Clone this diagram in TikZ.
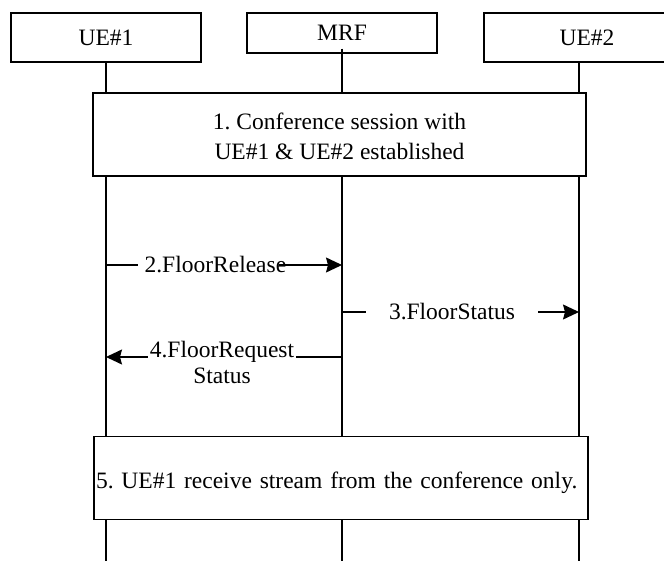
\documentclass[tikz,border=0pt]{standalone}
\usepackage{fontspec}
\setmainfont{Liberation Serif}
\usetikzlibrary{arrows.meta}
\frenchspacing
\begin{document}
\begin{tikzpicture}
  [x=1pt,y=-1pt,line width=1.2pt,
   every node/.style={font=\fontsize{23.5}{30}\selectfont,inner sep=0pt},
   head/.style={draw,fill=white,minimum width=190pt,minimum height=49pt},
   note/.style={draw,fill=white,minimum height=83pt},
   msg/.style={-{Stealth[length=16pt,width=15pt,inset=2pt]}},
   msglabel/.style={fill=white}]
  \clip (0,0) rectangle (664,561);
  % heads
  \node[head] (ue1) at (106,37.5) {UE\#1};
  \node[head,minimum height=40pt] (mrf) at (342,33) {MRF};
  \node[head] (ue2) at (579,37.5) {\hspace*{16pt}UE\#2};
  % lifelines
  \coordinate (bottom) at (0,561);
  \draw (ue1.south) -- (ue1 |- bottom);
  \draw ([yshift=5pt]mrf.south) -- (mrf |- bottom);
  \draw (ue2.south) -- (ue2 |- bottom);
  % steps 1 and 5
  \node[note,minimum width=493pt,align=center] (conf) at (339.5,134.5)
    {\rule{0pt}{21pt}1. Conference session with\\UE\#1 \& UE\#2 established};
  \node[note,minimum width=494pt,text width=490pt,inner xsep=2pt,align=left,
        text height=20pt,text depth=0pt] (recv) at (341,478)
    {\mbox{5. UE\#1 receive stream from the conference only.}};
  % messages
  \coordinate (r2) at (0,265);
  \coordinate (r3) at (0,312);
  \coordinate (r4) at (0,357);
  \draw[msg] (ue1 |- r2) -- (mrf |- r2);
  \node[msglabel,anchor=west,inner xsep=7pt,text width=127pt,align=left] (l2) at (137,265)
    {\mbox{2.FloorRelease}};
  \draw[msg] (mrf |- r3) -- (ue2 |- r3);
  \node[msglabel,minimum width=172pt] (l3) at (452,312) {3.FloorStatus};
  \draw[msg] (mrf |- r4) -- (ue1 |- r4);
  \node[msglabel,align=center,anchor=north,inner xsep=1.5pt,
        font=\fontsize{23.5}{26}\selectfont] (l4) at (222,341) {4.FloorRequest\\Status};
\end{tikzpicture}
\end{document}
